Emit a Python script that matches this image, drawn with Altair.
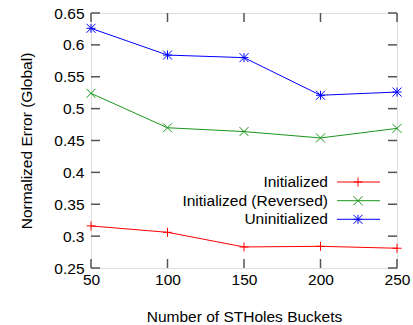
import altair as alt
import pandas as pd

buckets = [50, 100, 150, 200, 250]
series_names = ["Initialized", "Initialized (Reversed)", "Uninitialized"]
initialized = [0.316, 0.306, 0.283, 0.284, 0.281]
reversed_init = [0.524, 0.470, 0.464, 0.454, 0.469]
uninitialized = [0.626, 0.584, 0.580, 0.521, 0.526]
y_ticks = [0.25, 0.3, 0.35, 0.4, 0.45, 0.5, 0.55, 0.6, 0.65]
x_ticks = [50, 100, 150, 200, 250]

colors = ["#ff0000", "#1a961a", "#0000ff"]
shapes = [
    "M-1,0L1,0M0,-1L0,1",
    "M-1,-1L1,1M-1,1L1,-1",
    "M-1,0L1,0M0,-1L0,1M-1,-1L1,1M-1,1L1,-1",
]

rows = []
for name, vals in zip(series_names, [initialized, reversed_init, uninitialized]):
    for b, v in zip(buckets, vals):
        rows.append({"buckets": b, "error": v, "series": name})
df = pd.DataFrame(rows)

W, H = 306, 255
FONT = "Liberation Sans"
FS = 15.5
MS = 81

xs = alt.Scale(domain=[50, 250], nice=False, zero=False)
ys = alt.Scale(domain=[0.25, 0.65], nice=False, zero=False)
cs = alt.Scale(domain=series_names, range=colors)
ss = alt.Scale(domain=series_names, range=shapes)

x_axis = alt.Axis(values=x_ticks, title="Number of STHoles Buckets",
                  grid=False, ticks=False, domain=False,
                  labelOverlap=False, labelFlush=False,
                  labelFont=FONT, labelFontSize=FS, labelColor="#000",
                  labelPadding=4, titleFont=FONT, titleFontSize=FS,
                  titleFontWeight="normal", titleColor="#000",
                  titleY=41)
y_axis = alt.Axis(values=y_ticks, format=".2~f",
                  title="Normalized Error (Global)",
                  grid=False, ticks=False, domain=False,
                  labelOverlap=False, labelFlush=False,
                  labelFont=FONT, labelFontSize=FS, labelColor="#000",
                  labelPadding=7, titleFont=FONT, titleFontSize=FS,
                  titleFontWeight="normal", titleColor="#000",
                  titleX=-57, titleY=H / 2)

base = alt.Chart(df)

lines = base.mark_line(strokeWidth=1, clip=True).encode(
    x=alt.X("buckets:Q", scale=xs, axis=x_axis),
    y=alt.Y("error:Q", scale=ys, axis=y_axis),
    color=alt.Color("series:N", scale=cs, legend=None),
)

points = base.mark_point(filled=False, strokeWidth=1, size=MS, opacity=1).encode(
    x=alt.X("buckets:Q", scale=xs, axis=x_axis),
    y=alt.Y("error:Q", scale=ys, axis=y_axis),
    color=alt.Color("series:N", scale=cs, legend=None),
    shape=alt.Shape("series:N", scale=ss, legend=None),
)

# inward ticks
ytick_df = pd.DataFrame({"v": y_ticks})
xtick_df = pd.DataFrame({"v": x_ticks})
TL = 9
tick_color = "#555555"
yt_left = alt.Chart(ytick_df).mark_rule(color=tick_color, strokeWidth=1.5).encode(
    y=alt.Y("v:Q", scale=ys, axis=y_axis), x=alt.value(0), x2=alt.value(TL))
yt_right = alt.Chart(ytick_df).mark_rule(color=tick_color, strokeWidth=1.5).encode(
    y=alt.Y("v:Q", scale=ys, axis=y_axis), x=alt.value(W - TL), x2=alt.value(W))
xt_bot = alt.Chart(xtick_df).mark_rule(color=tick_color, strokeWidth=1.5).encode(
    x=alt.X("v:Q", scale=xs, axis=x_axis), y=alt.value(H - TL), y2=alt.value(H))
xt_top = alt.Chart(xtick_df).mark_rule(color=tick_color, strokeWidth=1.5).encode(
    x=alt.X("v:Q", scale=xs, axis=x_axis), y=alt.value(0), y2=alt.value(TL))

# manual legend (labels left of samples, gnuplot style)
leg_layers = []
leg_y = [169, 187.7, 206.3]
for name, col, shp, ly in zip(series_names, colors, shapes, leg_y):
    ldf = pd.DataFrame({"series": [name]})
    lc = alt.Chart(ldf)
    leg_layers.append(lc.mark_text(align="right", baseline="middle", font=FONT,
                                   fontSize=FS, color="#000").encode(
        text="series:N", x=alt.value(237), y=alt.value(ly)))
    leg_layers.append(lc.mark_rule(color=col, strokeWidth=1).encode(
        x=alt.value(246), x2=alt.value(289), y=alt.value(ly)))
    leg_layers.append(lc.mark_point(shape=shp, color=col, filled=False,
                                    strokeWidth=1, size=MS, opacity=1).encode(
        x=alt.value(267), y=alt.value(ly)))

chart = alt.layer(lines, points, yt_left, yt_right, xt_bot, xt_top, *leg_layers).properties(
    width=W, height=H,
    autosize=alt.AutoSizeParams(type="none"),
    padding={"left": 91, "top": 13, "right": 16, "bottom": 57},
).configure_view(stroke="#222222", strokeWidth=2).configure_axis(
    labelOverlap=False, labelFlush=False
).configure(background="white")

chart.save("out.html", embed_options={"renderer": "svg", "actions": False})
